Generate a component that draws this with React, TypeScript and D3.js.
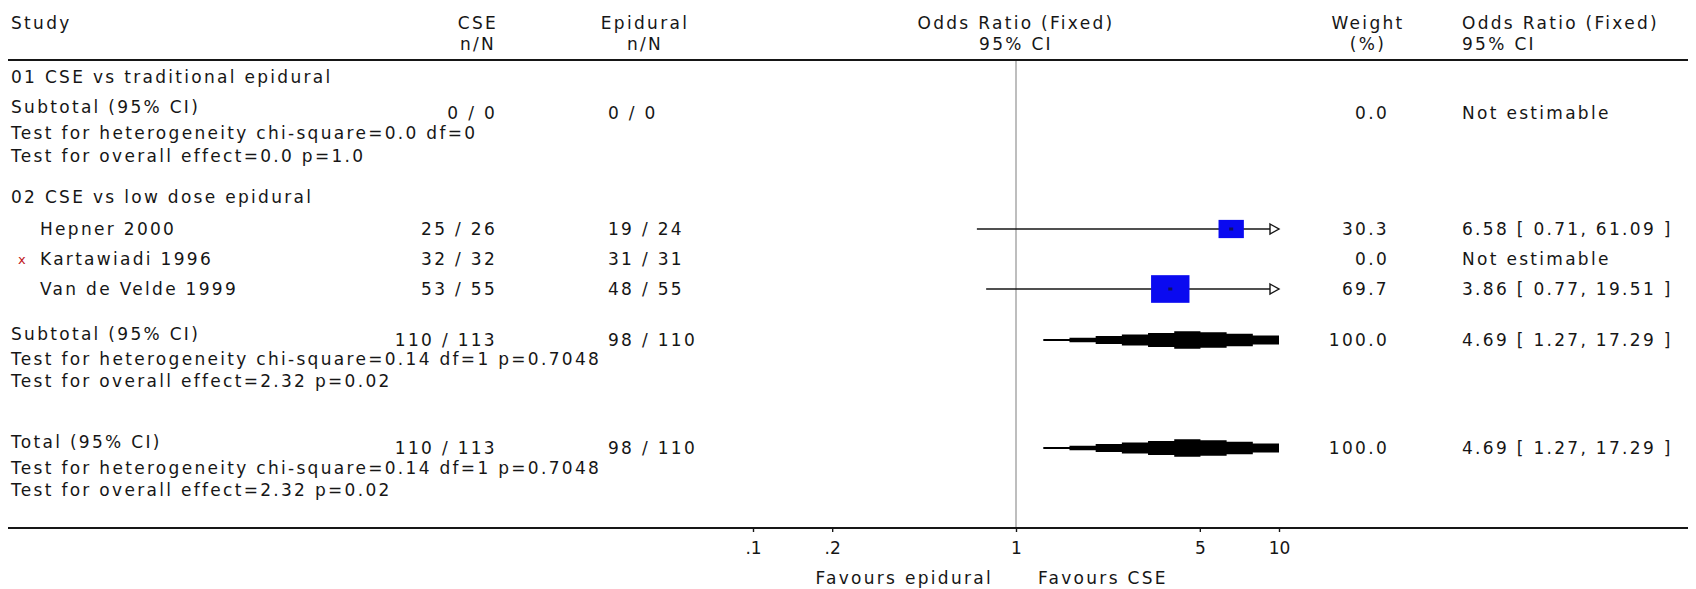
import React, { useEffect, useRef } from "react";
import * as d3 from "d3";

// study level data
const studies = ["Hepner 2000", "Kartawiadi 1996", "Van de Velde 1999"];
const cseEvents = [25, 32, 53];
const cseTotals = [26, 32, 55];
const epiEvents = [19, 31, 48];
const epiTotals = [24, 31, 55];
const weights = [30.3, 0.0, 69.7];
const oddsRatios = [6.58, null, 3.86];
const ciLower = [0.71, null, 0.77];
const ciUpper = [61.09, null, 19.51];
const excluded = [false, true, false];

// pooled rows: subtotal 01, subtotal 02, total
const summaryLabels = ["Subtotal (95% CI)", "Subtotal (95% CI)", "Total (95% CI)"];
const summaryCseEvents = [0, 110, 110];
const summaryCseTotals = [0, 113, 113];
const summaryEpiEvents = [0, 98, 98];
const summaryEpiTotals = [0, 110, 110];
const summaryWeights = [0.0, 100.0, 100.0];
const summaryOR = [null, 4.69, 4.69];
const summaryLower = [null, 1.27, 1.27];
const summaryUpper = [null, 17.29, 17.29];
const heterogeneity = [
  "Test for heterogeneity chi-square=0.0 df=0",
  "Test for heterogeneity chi-square=0.14 df=1 p=0.7048",
  "Test for heterogeneity chi-square=0.14 df=1 p=0.7048",
];
const overallEffect = [
  "Test for overall effect=0.0 p=1.0",
  "Test for overall effect=2.32 p=0.02",
  "Test for overall effect=2.32 p=0.02",
];
const groupTitles = ["01 CSE vs traditional epidural", "02 CSE vs low dose epidural"];

const tickValues = [0.1, 0.2, 1, 5, 10];
const tickLabels = [".1", ".2", "1", "5", "10"];

const W = 1696;
const H = 589;
const FONT = "DejaVu Sans";
const INK = "#161616";

// row baselines
const headerY = [29, 50];
const headerLineY = 60;
const groupY = [83, 203];
const studyY = [235, 265, 295];
const summaryLabelY = [113, 340, 448];
const summaryNumY = [119, 346, 454];
const hetY = [139, 365, 474];
const overallY = [162, 387, 496];
const axisY = 528;

function App() {
  const ref = useRef(null);

  useEffect(() => {
    const svg = d3.select(ref.current);
    svg.selectAll("*").remove();
    draw(svg);
  }, []);

  function draw(svg) {
    const x = d3.scaleLog().domain([0.1, 10]).range([753, 1279]);
    const boxW = d3.scaleSqrt().domain([0, 100]).range([0, 46]);

    svg.append("rect").attr("width", W).attr("height", H).attr("fill", "#fff");

    const txt = (s, px, py, anchor = "start", fill = INK) =>
      svg
        .append("text")
        .attr("x", px)
        .attr("y", py)
        .attr("text-anchor", anchor)
        .style("font-family", FONT)
        .style("font-size", "17px")
        .style("letter-spacing", "2.3px")
        .attr("fill", fill)
        .text(s);

    // column positions
    const colStudy = 11;
    const colCse = 497;
    const colCseHead = 478;
    const colEpi = 608;
    const colEpiHead = 645;
    const colWeight = 1389;
    const colWeightHead = 1368;
    const colOR = 1462;

    // headers
    txt("Study", colStudy, headerY[0]);
    txt("CSE", colCseHead, headerY[0], "middle");
    txt("n/N", colCseHead, headerY[1], "middle");
    txt("Epidural", colEpiHead, headerY[0], "middle");
    txt("n/N", colEpiHead, headerY[1], "middle");
    txt("Odds Ratio (Fixed)", x(1), headerY[0], "middle");
    txt("95% CI", x(1), headerY[1], "middle");
    txt("Weight", colWeightHead, headerY[0], "middle");
    txt("(%)", colWeightHead, headerY[1], "middle");
    txt("Odds Ratio (Fixed)", colOR, headerY[0]);
    txt("95% CI", colOR, headerY[1]);

    svg.append("line")
      .attr("x1", 8).attr("x2", W - 8)
      .attr("y1", headerLineY).attr("y2", headerLineY)
      .attr("stroke", INK).attr("stroke-width", 2.2);

    // null line at OR = 1
    svg.append("line")
      .attr("x1", x(1)).attr("x2", x(1))
      .attr("y1", headerLineY + 1).attr("y2", axisY)
      .attr("stroke", "#a9a9a9").attr("stroke-width", 1.5);

    // group titles
    groupTitles.forEach((g, i) => txt(g, colStudy, groupY[i]));

    // studies
    studies.forEach((s, i) => {
      const y = studyY[i];
      const cy = y - 6;
      if (excluded[i]) {
        svg.append("text")
          .attr("x", 18).attr("y", y - 1)
          .style("font-family", FONT).style("font-size", "13px")
          .attr("fill", "#c0161b").text("x");
      }
      txt(s, 40, y);
      txt(`${cseEvents[i]} / ${cseTotals[i]}`, colCse, y, "end");
      txt(`${epiEvents[i]} / ${epiTotals[i]}`, colEpi, y);
      txt(weights[i].toFixed(1), colWeight, y, "end");
      const or = oddsRatios[i];
      if (or == null) {
        txt("Not estimable", colOR, y);
        return;
      }
      txt(`${or.toFixed(2)} [ ${ciLower[i].toFixed(2)}, ${ciUpper[i].toFixed(2)} ]`, colOR, y);

      const lo = Math.max(ciLower[i], 0.1);
      const hi = Math.min(ciUpper[i], 10);
      svg.append("line")
        .attr("x1", x(lo)).attr("x2", x(hi))
        .attr("y1", cy).attr("y2", cy)
        .attr("stroke", INK).attr("stroke-width", 1.6);
      if (ciUpper[i] > 10) {
        const tip = x(10);
        svg.append("path")
          .attr("d", `M${tip - 9},${cy - 5}L${tip},${cy}L${tip - 9},${cy + 5}Z`)
          .attr("fill", "#fff").attr("stroke", INK).attr("stroke-width", 1.4);
      }
      const bw = boxW(weights[i]);
      const bh = bw * 0.72;
      svg.append("rect")
        .attr("x", x(or) - bw / 2).attr("y", cy - bh / 2)
        .attr("width", bw).attr("height", bh)
        .attr("fill", "#0a0af0");
      svg.append("rect")
        .attr("x", x(or) - 2).attr("y", cy - 1.5)
        .attr("width", 4).attr("height", 3)
        .attr("fill", "#101060");
    });

    // pooled rows
    const stepArea = d3.area()
      .x((d) => x(Math.pow(10, d.lv)))
      .y0((d) => d.cy - d.h)
      .y1((d) => d.cy + d.h)
      .curve(d3.curveStepAfter);

    summaryLabels.forEach((lab, i) => {
      txt(lab, colStudy, summaryLabelY[i]);
      const ny = summaryNumY[i];
      txt(`${summaryCseEvents[i]} / ${summaryCseTotals[i]}`, colCse, ny, "end");
      txt(`${summaryEpiEvents[i]} / ${summaryEpiTotals[i]}`, colEpi, ny);
      txt(summaryWeights[i].toFixed(1), colWeight, ny, "end");
      txt(heterogeneity[i], colStudy, hetY[i]);
      txt(overallEffect[i], colStudy, overallY[i]);
      const or = summaryOR[i];
      if (or == null) {
        txt("Not estimable", colOR, ny);
        return;
      }
      txt(`${or.toFixed(2)} [ ${summaryLower[i].toFixed(2)}, ${summaryUpper[i].toFixed(2)} ]`, colOR, ny);

      // stepped diamond, clipped at the axis end
      const cy = ny - 6;
      const half = 9;
      const l0 = Math.log10(summaryLower[i]);
      const lh = Math.log10(summaryUpper[i]);
      const l1 = Math.log10(Math.min(summaryUpper[i], 10));
      const le = Math.log10(or);
      const n = 9;
      const hAt = (lv) =>
        lv <= le ? (half * (lv - l0)) / (le - l0) : (half * (lh - lv)) / (lh - le);
      const segs = d3.range(n).map((k) => {
        const a = l0 + ((l1 - l0) * k) / n;
        const b = l0 + ((l1 - l0) * (k + 1)) / n;
        return { lv: a, cy, h: Math.max(1, hAt((a + b) / 2)) };
      });
      segs.push({ lv: l1, cy, h: segs[n - 1].h });
      svg.append("path").attr("d", stepArea(segs)).attr("fill", "#000");
    });

    // bottom axis
    svg.append("line")
      .attr("x1", 8).attr("x2", W - 8)
      .attr("y1", axisY).attr("y2", axisY)
      .attr("stroke", INK).attr("stroke-width", 2.2);

    const axis = svg.append("g")
      .attr("transform", `translate(0,${axisY})`)
      .call(
        d3.axisBottom(x)
          .tickValues(tickValues)
          .tickFormat((d, i) => tickLabels[i])
          .tickSize(4)
          .tickPadding(10)
      );
    axis.select(".domain").remove();
    axis.selectAll("line").attr("stroke", INK).attr("stroke-width", 1.4);
    axis.selectAll("text")
      .style("font-family", FONT)
      .style("font-size", "17px")
      .attr("fill", INK);

    txt("Favours epidural", x(1) - 23, 584, "end");
    txt("Favours CSE", x(1) + 22, 584);
  }

  return (
    <svg
      ref={ref}
      width={W}
      height={H}
      style={{ position: "absolute", left: 0, top: 0 }}
    ></svg>
  );
}

export default App;
